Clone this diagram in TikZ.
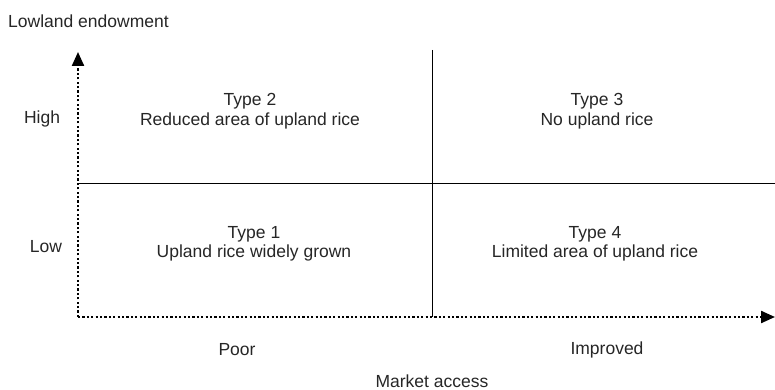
\documentclass[tikz,border=0pt]{standalone}
\usepackage{fontspec}
\setmainfont{Liberation Sans}
\usetikzlibrary{arrows.meta}
\begin{document}
\begin{tikzpicture}[x=1pt,y=-1pt,
  lbl/.style={font=\fontsize{17.5}{19.5}\selectfont, text=black!85, inner sep=0pt, align=center},
  axis/.style={line width=2.2pt, dash pattern=on 2.2pt off 2.2pt, -{Triangle[length=14pt,width=12pt]}},
  grid/.style={line width=0.8pt}]
\useasboundingbox (0,0) rectangle (775,390);
\coordinate (O) at (78,317);
\coordinate (ytip) at (78,52);
\coordinate (xtip) at (775,317);
\coordinate (vtop) at (432,50);
\coordinate (vbot) at (432,317);
\coordinate (hl) at (78,183);
\coordinate (hr) at (775,183);
\draw[grid] (vtop) -- (vbot);
\draw[grid] (hl) -- (hr);
\draw[axis] (O) -- (ytip);
\draw[axis] (O) -- (xtip);
\node[lbl, anchor=west] (ylab) at (8,21) {Lowland endowment};
\node[lbl] (high) at (42,119) {High};
\node[lbl] (low) at (46,247) {Low};
\node[lbl] (t2) at (250,111) {Type 2\\Reduced area of upland rice};
\node[lbl] (t3) at (597,111) {Type 3\\No upland rice};
\node[lbl] (t1) at (254,244) {Type 1\\Upland rice widely grown};
\node[lbl] (t4) at (595,244) {Type 4\\Limited area of upland rice};
\node[lbl] (poor) at (237,350) {Poor};
\node[lbl] (imp) at (607,350) {Improved};
\node[lbl] (xlab) at (432,381) {Market access};
\end{tikzpicture}
\end{document}
